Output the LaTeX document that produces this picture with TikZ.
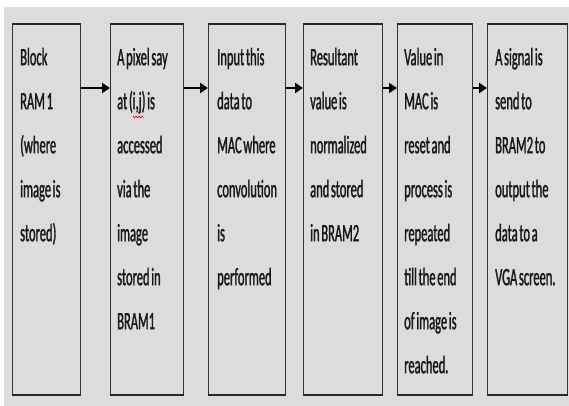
\documentclass[tikz,border=0pt]{standalone}
\usepackage{fontspec}
\newfontfamily\cond[FakeStretch=0.5,FakeBold=1.2,WordSpace=0.6]{Carlito}
\usetikzlibrary{arrows.meta}
\definecolor{bgc}{HTML}{DCDCDC}
\begin{document}
\begin{tikzpicture}[x=1pt,y=-1pt,
  boxnode/.style={draw=black!80, line width=1.1pt, fill=bgc, rectangle, inner sep=0pt, anchor=north west, minimum height=370pt},
  edge/.style={line width=2.6pt, black!85},
  txt/.style={anchor=north west, inner sep=0pt, align=left, text=black!90, font=\cond\fontsize{25}{44}\selectfont},
  flow/.style={line width=1.8pt, -{Triangle[length=8pt,width=10pt]}}]
\useasboundingbox (0,0) rectangle (569,406);
\fill[bgc] (4,7) rectangle (569,406);
\coordinate (ay) at (0,88);
\node[boxnode, minimum width=68pt] (b1) at (12,24) {};
\node[boxnode, minimum width=73pt] (b2) at (110,24) {};
\node[boxnode, minimum width=77pt] (b3) at (208,24) {};
\node[boxnode, minimum width=79pt] (b4) at (303,24) {};
\node[boxnode, minimum width=75pt] (b5) at (397,24) {};
\node[boxnode, minimum width=80pt] (b6) at (487,24) {};
\foreach \b in {b1,b2,b3,b4,b5,b6}{
  \draw[edge] (\b.north west) -- (\b.north east);
  \draw[edge] (\b.south west) -- (\b.south east);
}
\node[txt] (t1) at (20,34.2) {\strut Block\\RAM 1\\(where\\image is\\stored)};
\node[txt] (t2) at (117,34.2) {\strut A pixel say\\at (i,j) is\\accessed\\via the\\image\\stored in\\BRAM1};
\node[txt] (t3) at (217,34.2) {\strut Input this\\data to\\MAC where\\convolution\\is\\performed};
\node[txt] (t4) at (310,34.2) {\strut Resultant\\value is\\normalized\\and stored\\in BRAM2};
\node[txt] (t5) at (404,34.2) {\strut Value in\\MAC is\\reset and\\process is\\repeated\\till the end\\of image is\\reached.};
\node[txt] (t6) at (495,34.2) {\strut A signal is\\send to\\BRAM2 to\\output the\\data to a\\VGA screen.};
\coordinate (sq) at (133,116);
\draw[red, line width=0.6pt] (sq) -- ++(1.5,2) -- ++(1.5,-2) -- ++(1.5,2) -- ++(1.5,-2) -- ++(1.5,2) -- ++(1.5,-2) -- ++(1.5,2);
\draw[flow] (b1.east |- ay) -- (b2.west |- ay);
\draw[flow] (b2.east |- ay) -- (b3.west |- ay);
\draw[flow] (b3.east |- ay) -- (b4.west |- ay);
\draw[flow] (b4.east |- ay) -- (b5.west |- ay);
\draw[flow] (b5.east |- ay) -- (b6.west |- ay);
\end{tikzpicture}
\end{document}
